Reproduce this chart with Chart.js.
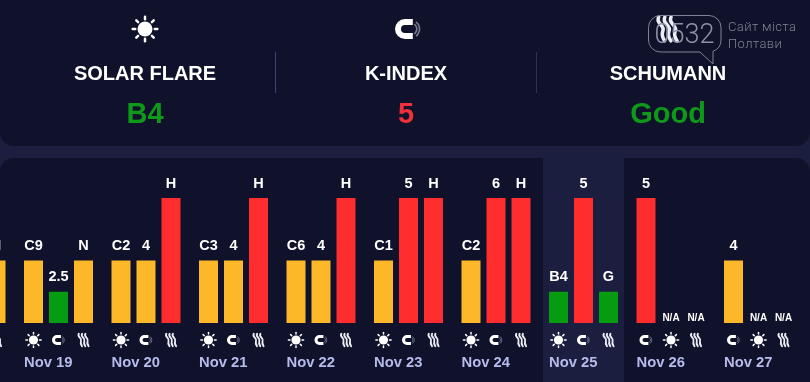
<!DOCTYPE html>
<html lang="en">
<head>
  <meta charset="UTF-8"><meta name="viewport" content="width=device-width">
  <title>Space weather</title>
  <script src="https://cdn.jsdelivr.net/npm/chart.js"></script>
  <style>
    html,body{margin:0;height:100%;}
    body{width:810px;height:382px;overflow:hidden;position:relative;background:#1b1e3f;font-family:"Liberation Sans",Arial,sans-serif;}
    .panel{position:absolute;left:0;width:810px;background:#0f122a;}
    #top{top:-12px;height:158px;border-radius:14px;}
    #bottom{top:158px;height:240px;border-radius:14px;}
    #c{position:absolute;left:-73px;top:0;}
    .head{position:absolute;top:61px;width:260px;text-align:center;color:#fff;font-weight:bold;font-size:20px;line-height:24px;}
    .val{position:absolute;top:96px;width:260px;text-align:center;font-weight:bold;font-size:29px;line-height:34px;}
    .sep{position:absolute;top:52px;width:1px;height:41px;background:#3d4479;}
    #wm{position:absolute;left:648px;top:15px;width:74px;height:50px;}
    #wmNum{position:absolute;left:648px;top:17px;width:73px;text-align:center;font:300 27px/34px Roboto,sans-serif;color:#8d93a6;}
    #wmText{position:absolute;left:728px;top:18px;font:300 13px/17px Roboto,sans-serif;color:#7d8496;letter-spacing:.4px;}
  </style>
</head>
<body>
  <div class="panel" id="top"></div>
  <div class="panel" id="bottom"></div>
  <canvas id="c" width="883" height="382"></canvas>

  <div class="head" style="left:15px">SOLAR FLARE</div>
  <div class="head" style="left:276px">K-INDEX</div>
  <div class="head" style="left:538px">SCHUMANN</div>
  <div class="val" style="left:15px;color:#0e9a18">B4</div>
  <div class="val" style="left:276px;color:#f0303a">5</div>
  <div class="val" style="left:538px;color:#0e9a18">Good</div>
  <div class="sep" style="left:275px"></div>
  <div class="sep" style="left:536px;background:#2c3159"></div>

  <svg id="wm" viewBox="0 0 74 50"><path d="M12 .5H61a12 12 0 0 1 12 12V25a12 12 0 0 1-8 11.300V49L52 37H12A12 12 0 0 1 .5 25V12.500A12 12 0 0 1 12 .5Z" fill="none" stroke="#7d8496" stroke-width="1"/></svg>
  <div id="wmNum">0532</div>
  <div id="wmText">Сайт міста<br>Полтави</div>

  <script>
    const days = ['Nov 18','Nov 19','Nov 20','Nov 21','Nov 22','Nov 23','Nov 24','Nov 25','Nov 26','Nov 27'];
    // bar level: 1 low, 2 medium, 4 high, 0 no data
    const firstSlot  = [null,2,2,2,2,2,2,1,4,2];
    const secondSlot = [null,1,2,2,2,4,4,4,0,0];
    const thirdSlot  = [2,2,4,4,4,4,4,1,0,0];
    const firstText  = ['','C9','C2','C3','C6','C1','C2','B4','5','4'];
    const secondText = ['','2.5','4','4','4','5','6','5','N/A','N/A'];
    const thirdText  = ['N','N','H','H','H','H','H','G','N/A','N/A'];
    const firstIcon  = ['','sun','sun','sun','sun','sun','sun','sun','magnet','magnet'];
    const secondIcon = ['','magnet','magnet','magnet','magnet','magnet','magnet','magnet','sun','sun'];
    const thirdIcon  = ['waves','waves','waves','waves','waves','waves','waves','waves','waves','waves'];
    const levelColors = {0:'#0f122a',1:'#059c11',2:'#fdb82a',4:'#ff2d2d'};
    const slotTexts = [firstText,secondText,thirdText];
    const slotIcons = [firstIcon,secondIcon,thirdIcon];
    const todayIndex = days.indexOf('Nov 25');

    function drawIcon(ctx,type,x,y,r){
      ctx.save();
      ctx.translate(x,y);
      ctx.scale(r/8,r/8);
      ctx.lineCap='round';
      if(type==='sun'){
        ctx.fillStyle=ctx.strokeStyle='#fff';
        ctx.beginPath();ctx.arc(0,0,4.6,0,Math.PI*2);ctx.fill();
        ctx.lineWidth=1.5;
        for(let i=0;i<8;i++){
          const a=i*Math.PI/4;
          ctx.beginPath();
          ctx.moveTo(Math.cos(a)*6,Math.sin(a)*6);
          ctx.lineTo(Math.cos(a)*7.6,Math.sin(a)*7.6);
          ctx.stroke();
        }
      }else if(type==='magnet'){
        ctx.lineCap='butt';
        ctx.strokeStyle='#fff';
        ctx.lineWidth=3;
        ctx.beginPath();
        ctx.moveTo(2.4,-3.5);
        ctx.lineTo(-1.5,-3.5);
        ctx.arc(-1.5,0,3.5,-Math.PI/2,Math.PI/2,true);
        ctx.lineTo(2.4,3.5);
        ctx.stroke();
        ctx.strokeStyle='rgba(190,195,215,.6)';
        ctx.lineWidth=.8;
        ctx.beginPath();ctx.arc(1.4,0,3,-Math.PI*.3,Math.PI*.3);ctx.stroke();
        ctx.beginPath();ctx.arc(1.4,0,4.4,-Math.PI*.3,Math.PI*.3);ctx.stroke();
      }else{
        ctx.strokeStyle='#eceef5';
        ctx.lineWidth=1.9;
        for(let i=-1;i<=1;i++){
          const o=i*3.3;
          ctx.beginPath();
          ctx.moveTo(o-1.4,-6.3);
          ctx.bezierCurveTo(o-3.4,-3,o+2.2,-2,o+.8,1);
          ctx.bezierCurveTo(o+.1,3,o+.9,5,o+1.8,6.3);
          ctx.stroke();
        }
      }
      ctx.restore();
    }

    const dayColumn = {
      id:'dayColumn',
      beforeDraw(chart){
        const {ctx,scales:{x}} = chart;
        const cx = x.getPixelForValue(todayIndex);
        ctx.save();
        ctx.fillStyle='#1b1e3f';
        ctx.fillRect(cx-40.5,158,81,224);
        ctx.restore();
      }
    };

    const barNotes = {
      id:'barNotes',
      afterDatasetsDraw(chart){
        const {ctx,chartArea} = chart;
        ctx.save();
        ctx.textAlign='center';
        chart.data.datasets.forEach((ds,d)=>{
          chart.getDatasetMeta(d).data.forEach((bar,i)=>{
            const text = slotTexts[d][i];
            if(!text) return;
            const empty = text==='N/A';
            ctx.fillStyle='#fff';
            ctx.font = empty ? 'bold 10px "Liberation Sans"' : 'bold 14.5px "Liberation Sans"';
            ctx.fillText(text,bar.x,empty ? bar.y-2 : bar.y-10.5);
            drawIcon(ctx,slotIcons[d][i],bar.x,chartArea.bottom+17,8);
          });
        });
        // header icons
        drawIcon(ctx,'sun',145+73,29,13);
        drawIcon(ctx,'magnet',408+73,29,16);
        drawIcon(ctx,'waves',667.5+73,29,15);
        ctx.restore();
      }
    };

    const slot = (data)=>({
      data,
      backgroundColor:data.map(v=>levelColors[v]),
      categoryPercentage:75/87.5,
      barPercentage:0.76
    });

    new Chart(document.getElementById('c'),{
      type:'bar',
      data:{labels:days,datasets:[slot(firstSlot),slot(secondSlot),slot(thirdSlot)]},
      plugins:[dayColumn,barNotes],
      options:{
        responsive:false,
        animation:false,
        layout:{padding:{left:0.25,right:7.75,top:198,bottom:0}},
        plugins:{legend:{display:false},tooltip:{enabled:false}},
        scales:{
          x:{
            afterFit(s){s.height=59;s.paddingLeft=0;s.paddingRight=0;},
            grid:{display:false},
            border:{display:false},
            ticks:{
              autoSkip:false,maxRotation:0,padding:23,align:'start',labelOffset:-34.5,
              color:'#b6bbec',font:{family:'"Liberation Sans"',size:14.8,weight:'bold'}
            }
          },
          y:{display:false,min:0,max:4}
        }
      }
    });
  </script>
</body>
</html>
